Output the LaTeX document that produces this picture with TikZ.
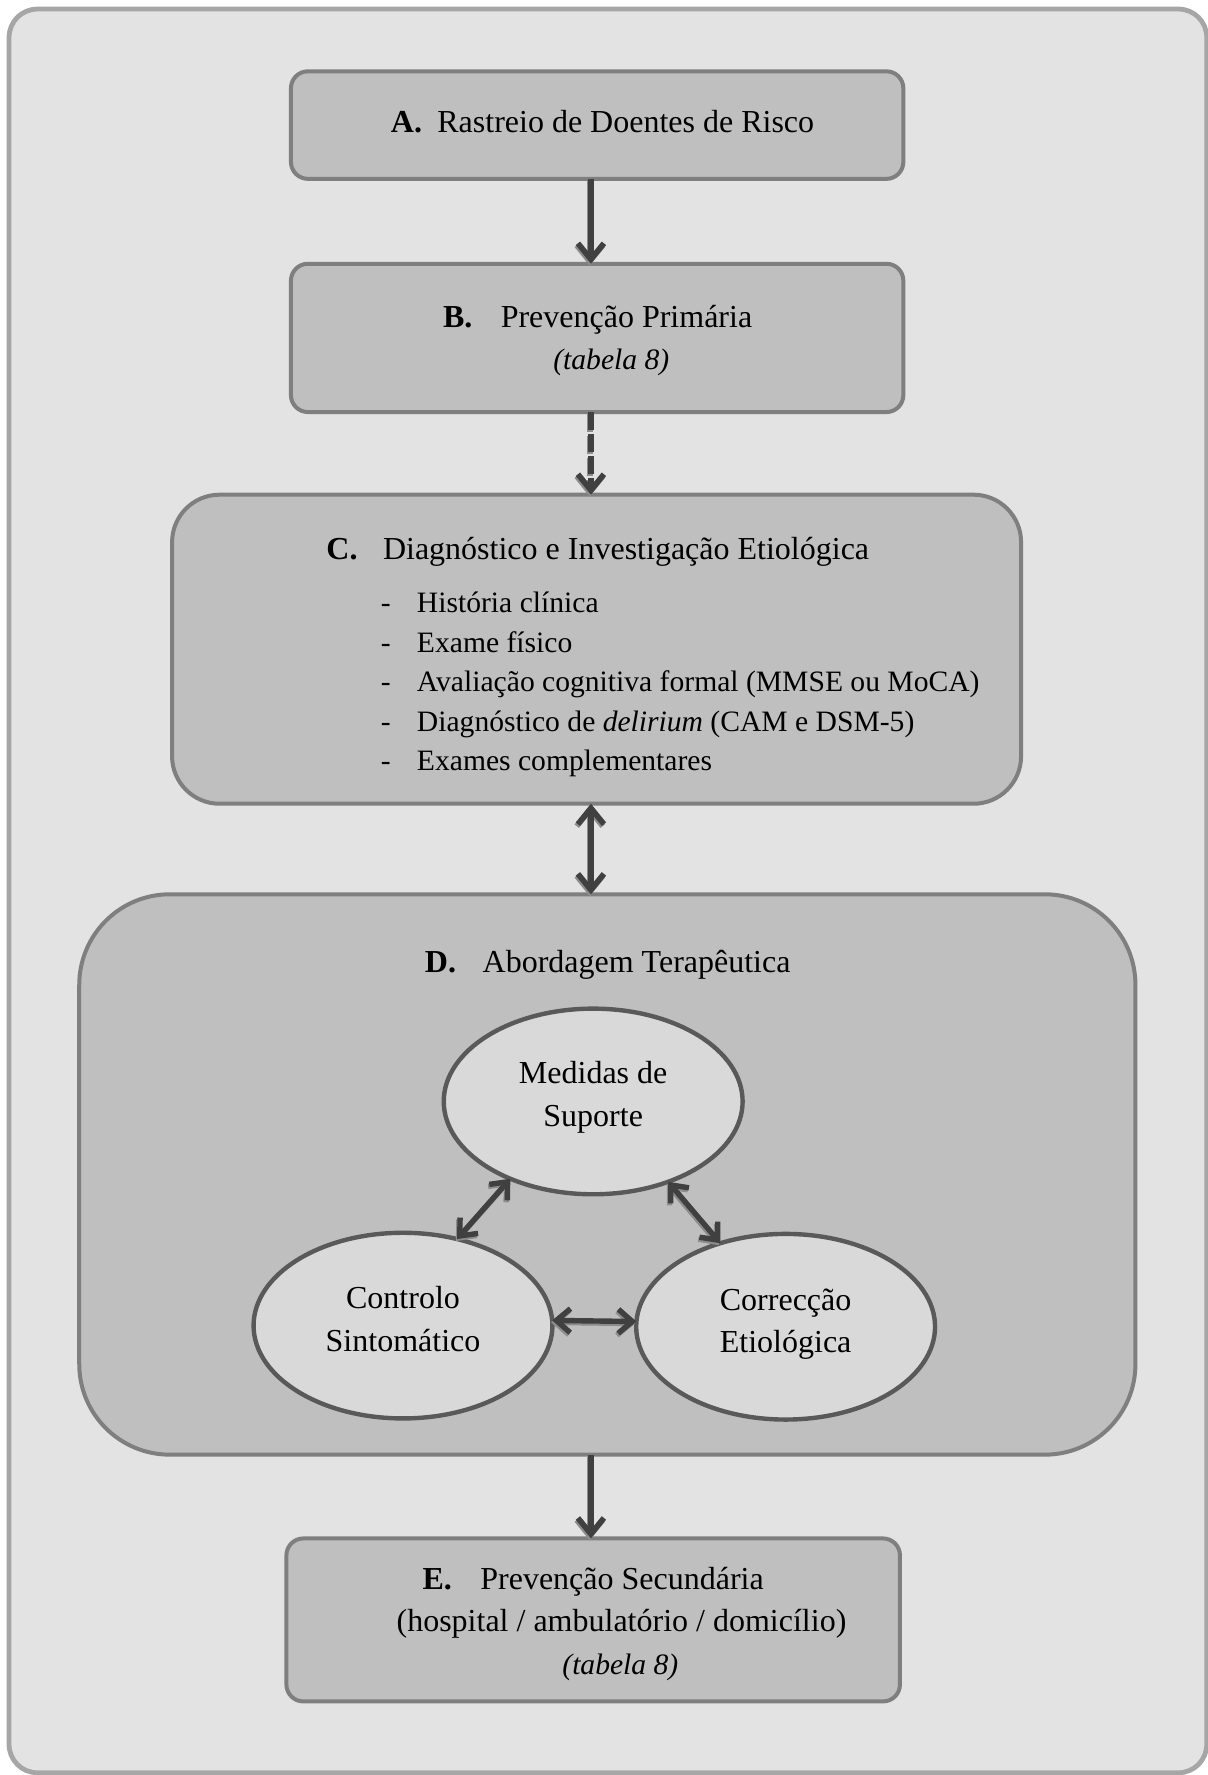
\documentclass[tikz,border=0pt]{standalone}
\usepackage{fontspec}
\setmainfont{Liberation Serif}
\usetikzlibrary{arrows.meta,shapes.geometric}
\newdimen\px \px=0.566pt
\definecolor{bgc}{HTML}{E3E3E3}
\definecolor{framec}{HTML}{A6A6A6}
\definecolor{boxfill}{HTML}{BFBFBF}
\definecolor{boxline}{HTML}{7F7F7F}
\definecolor{ellfill}{HTML}{D9D9D9}
\definecolor{ellline}{HTML}{595959}
\definecolor{arr}{HTML}{404040}
\definecolor{arrsh}{HTML}{8C8C8C}
\begin{document}
\begin{tikzpicture}[x=0.566pt,y=-0.566pt,
  font=\fontsize{16}{19.8}\selectfont,
  box/.style={draw=boxline, fill=boxfill, line width=2pt, inner sep=0pt, outer sep=0pt},
  ell/.style={ellipse, draw=ellline, fill=ellfill, line width=2.2pt, inner sep=0pt, outer sep=0pt,
              minimum width=264\px, minimum height=164\px},
  txt/.style={inner sep=0pt, anchor=base west},
  ctxt/.style={inner sep=0pt, anchor=base},
  small/.style={font=\fontsize{14.8}{18}\selectfont},
  tip/.style={Straight Barb[length=8pt,width=13pt]},
  stip/.style={Straight Barb[length=7pt,width=12pt]},
  arrmain/.style={draw=arr, line width=2.8pt, -{Straight Barb[length=8pt,width=13pt]}},
  arrshad/.style={draw=arrsh, line width=2.8pt, -{Straight Barb[length=8pt,width=13pt]}, transform canvas={shift={(-0.6pt,-1pt)}}},
  arrmaind/.style={draw=arr, line width=2.8pt, {Straight Barb[length=8pt,width=13pt]}-{Straight Barb[length=8pt,width=13pt]}},
  arrshadd/.style={draw=arrsh, line width=2.8pt, {Straight Barb[length=8pt,width=13pt]}-{Straight Barb[length=8pt,width=13pt]}, transform canvas={shift={(-0.6pt,-1pt)}}},
  arrsmall/.style={draw=arr, line width=2.7pt, {Straight Barb[length=7pt,width=12pt]}-{Straight Barb[length=7pt,width=12pt]}},
  arrsmallsh/.style={draw=arrsh, line width=2.7pt, {Straight Barb[length=7pt,width=12pt]}-{Straight Barb[length=7pt,width=12pt]}, transform canvas={shift={(-0.6pt,-1pt)}}},
]
\useasboundingbox (0,0) rectangle (1067,1568);
% outer frame
\node[draw=framec, fill=bgc, line width=2.4pt, rounded corners=25\px, inner sep=0pt,
      minimum width=1058\px, minimum height=1558\px] (frame) at (537,787) {};

% boxes
\node[box, rounded corners=15\px, minimum width=541\px, minimum height=95\px] (A) at (527.5,110.5) {};
\node[box, rounded corners=15\px, minimum width=541\px, minimum height=131\px] (B) at (527.5,298.5) {};
\node[box, rounded corners=42\px, minimum width=750\px, minimum height=273\px] (C) at (527,573.5) {};
\node[box, rounded corners=80\px, minimum width=933\px, minimum height=495\px] (D) at (536.5,1037.5) {};
\node[box, rounded corners=15\px, minimum width=542\px, minimum height=144\px] (E) at (524,1431) {};

% texts A
\node[txt] (tAa) at (345,117) {\textbf{A.}};
\node[txt] (tAb) at (386,117) {Rastreio de Doentes de Risco};
% texts B
\node[txt] (tBa) at (391,289) {\textbf{B.}};
\node[txt] (tBb) at (442,289) {Prevenção Primária};
\node[ctxt, small] (tBc) at (540,326) {\textit{(tabela 8)}};
% texts C
\node[txt] (tCa) at (288,494) {\textbf{C.}};
\node[txt] (tCb) at (338,494) {Diagnóstico e Investigação Etiológica};
\node[txt, small] (d1) at (336,541) {-};
\node[txt, small] (d2) at (336,576) {-};
\node[txt, small] (d3) at (336,611) {-};
\node[txt, small] (d4) at (336,646) {-};
\node[txt, small] (d5) at (336,681) {-};
\node[txt, small] (l1) at (368,541) {História clínica};
\node[txt, small] (l2) at (368,576) {Exame físico};
\node[txt, small] (l3) at (368,611) {Avaliação cognitiva formal (MMSE ou MoCA)};
\node[txt, small] (l4) at (368,646) {Diagnóstico de \textit{delirium} (CAM e DSM-5)};
\node[txt, small] (l5) at (368,681) {Exames complementares};
% texts D
\node[txt] (tDa) at (375,859) {\textbf{D.}};
\node[txt] (tDb) at (426,859) {Abordagem Terapêutica};
% texts E
\node[txt] (tEa) at (373,1404) {\textbf{E.}};
\node[txt] (tEb) at (424,1404) {Prevenção Secundária};
\node[ctxt] (tEc) at (549,1441) {(hospital / ambulatório / domicílio)};
\node[ctxt, small] (tEd) at (548,1479) {\textit{(tabela 8)}};

% ellipses
\node[ell] (M) at (524,973) {};
\node[ell] (Cs) at (356,1171) {};
\node[ell] (Ce) at (694,1172) {};
\node[ctxt] (m1) at (524,957) {Medidas de};
\node[ctxt] (m2) at (524,995) {Suporte};
\node[ctxt] (c1) at (356,1156) {Controlo};
\node[ctxt] (c2) at (356,1194) {Sintomático};
\node[ctxt] (e1) at (694,1158) {Correcção};
\node[ctxt] (e2) at (694,1195) {Etiológica};

% connectors
\draw[arrshad] ([xshift=-5.5\px]A.south) -- ([xshift=-5.5\px]B.north);
\draw[arrmain] ([xshift=-5.5\px]A.south) -- ([xshift=-5.5\px]B.north);
\draw[arrshad, dash pattern=on 9pt off 2pt] ([xshift=-5.5\px]B.south) -- ([xshift=-5\px]C.north);
\draw[arrmain, dash pattern=on 9pt off 2pt] ([xshift=-5.5\px]B.south) -- ([xshift=-5\px]C.north);
\draw[arrshadd] ([xshift=-5\px]C.south) -- ([xshift=-14.5\px]D.north);
\draw[arrmaind] ([xshift=-5\px]C.south) -- ([xshift=-14.5\px]D.north);
\draw[arrshad] ([xshift=-14.5\px]D.south) -- ([xshift=-2\px]E.north);
\draw[arrmain] ([xshift=-14.5\px]D.south) -- ([xshift=-2\px]E.north);

\draw[arrsmallsh] (M.223) -- (Cs.58);
\draw[arrsmall] (M.223) -- (Cs.58);
\draw[arrsmallsh] (M.313) -- (Ce.128);
\draw[arrsmall] (M.313) -- (Ce.128);
\draw[arrsmallsh] (Cs.2) -- (Ce.178);
\draw[arrsmall] (Cs.2) -- (Ce.178);
\end{tikzpicture}
\end{document}
